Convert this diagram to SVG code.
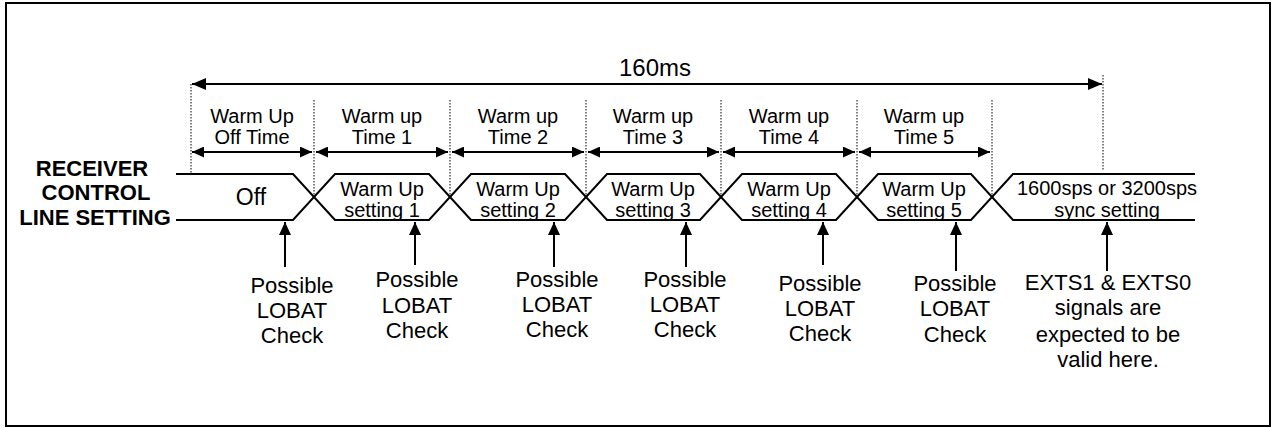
<svg xmlns="http://www.w3.org/2000/svg" width="1273" height="428" viewBox="0 0 1273 428">
<defs>
<marker id="ah" viewBox="0 0 12 11" refX="12" refY="5.5" markerWidth="12" markerHeight="11" markerUnits="userSpaceOnUse" orient="auto-start-reverse"><path d="M0,0 L12,5.5 L0,11 Z" fill="#000"/></marker>
<marker id="ahb" viewBox="0 0 14 12" refX="14" refY="6" markerWidth="14" markerHeight="12" markerUnits="userSpaceOnUse" orient="auto-start-reverse"><path d="M0,0 L14,6 L0,12 Z" fill="#000"/></marker>
<marker id="ahu" viewBox="0 0 13 12" refX="13" refY="6" markerWidth="13" markerHeight="12" markerUnits="userSpaceOnUse" orient="auto"><path d="M0,0 L13,6 L0,12 Z" fill="#000"/></marker>
</defs>
<style>
text{font-family:"Liberation Sans",Arial,sans-serif;fill:#000;text-anchor:middle}
.t20{font-size:20px}
.t22{font-size:22px}
.b{font-weight:bold;font-size:22px}
.dot{stroke:#000;stroke-width:1;stroke-dasharray:1.5,1.5;fill:none}
.ln{stroke:#000;stroke-width:2;fill:none}
.ar{stroke:#000;stroke-width:2;fill:none}
</style>
<rect x="6" y="3" width="1264" height="423" fill="#fff" stroke="#000" stroke-width="2"/>

<g id="timing-lines">
<line class="dot" x1="191" y1="84" x2="191" y2="174"/>
<line class="dot" x1="314" y1="100" x2="314" y2="197"/>
<line class="dot" x1="450" y1="100" x2="450" y2="197"/>
<line class="dot" x1="586" y1="100" x2="586" y2="197"/>
<line class="dot" x1="721" y1="100" x2="721" y2="197"/>
<line class="dot" x1="857" y1="100" x2="857" y2="197"/>
<line class="dot" x1="992" y1="100" x2="992" y2="197"/>
<line class="dot" x1="1103" y1="75" x2="1103" y2="171"/>
</g>

<g id="total-span">
<line class="ar" x1="192" y1="84" x2="1102" y2="84" marker-start="url(#ahb)" marker-end="url(#ahb)"/>
<text class="t22" x="655" y="76" style="font-size:24px">160ms</text>
</g>

<g id="signal-label">
<text class="b" x="92" y="176">RECEIVER</text>
<text class="b" x="96" y="200">CONTROL</text>
<text class="b" x="95" y="225">LINE SETTING</text>
</g>

<g id="signal">
<path class="ln" d="M176,174 H293 L335,220 H429 L471,174 H565 L607,220 H700 L742,174 H836 L878,220 H971 L1013,174 H1195"/>
<path class="ln" d="M176,220 H293 L335,174 H429 L471,220 H565 L607,174 H700 L742,220 H836 L878,174 H971 L1013,220 H1195"/>
</g>

<g id="seg-off">
<line class="ar" x1="192" y1="152" x2="312" y2="152" marker-start="url(#ah)" marker-end="url(#ah)"/>
<text class="t20" x="252" y="123">Warm Up</text>
<text class="t20" x="252" y="144">Off Time</text>
<text class="t22" x="251" y="205" style="font-size:23px">Off</text>
</g>
<g id="seg-1">
<line class="ar" x1="316" y1="152" x2="448" y2="152" marker-start="url(#ah)" marker-end="url(#ah)"/>
<text class="t20" x="382" y="123">Warm up</text>
<text class="t20" x="382" y="144">Time 1</text>
<text class="t20" x="382" y="196">Warm Up</text>
<text class="t20" x="382" y="217">setting 1</text>
</g>
<g id="seg-2">
<line class="ar" x1="452" y1="152" x2="584" y2="152" marker-start="url(#ah)" marker-end="url(#ah)"/>
<text class="t20" x="518" y="123">Warm up</text>
<text class="t20" x="518" y="144">Time 2</text>
<text class="t20" x="518" y="196">Warm Up</text>
<text class="t20" x="518" y="217">setting 2</text>
</g>
<g id="seg-3">
<line class="ar" x1="588" y1="152" x2="719" y2="152" marker-start="url(#ah)" marker-end="url(#ah)"/>
<text class="t20" x="653" y="123">Warm up</text>
<text class="t20" x="653" y="144">Time 3</text>
<text class="t20" x="653" y="196">Warm Up</text>
<text class="t20" x="653" y="217">setting 3</text>
</g>
<g id="seg-4">
<line class="ar" x1="723" y1="152" x2="855" y2="152" marker-start="url(#ah)" marker-end="url(#ah)"/>
<text class="t20" x="789" y="123">Warm up</text>
<text class="t20" x="789" y="144">Time 4</text>
<text class="t20" x="789" y="196">Warm Up</text>
<text class="t20" x="789" y="217">setting 4</text>
</g>
<g id="seg-5">
<line class="ar" x1="859" y1="152" x2="990" y2="152" marker-start="url(#ah)" marker-end="url(#ah)"/>
<text class="t20" x="924" y="123">Warm up</text>
<text class="t20" x="924" y="144">Time 5</text>
<text class="t20" x="924" y="196">Warm Up</text>
<text class="t20" x="924" y="217">setting 5</text>
</g>
<g id="seg-sync">
<text class="t20" x="1107" y="195">1600sps or 3200sps</text>
<text class="t20" x="1107" y="217">sync setting</text>
</g>

<g id="connectors">
<line class="ar" x1="285" y1="267" x2="285" y2="222" marker-end="url(#ahu)"/>
<line class="ar" x1="415" y1="265" x2="415" y2="222" marker-end="url(#ahu)"/>
<line class="ar" x1="554" y1="267" x2="554" y2="222" marker-end="url(#ahu)"/>
<line class="ar" x1="686" y1="267" x2="686" y2="222" marker-end="url(#ahu)"/>
<line class="ar" x1="823" y1="265" x2="823" y2="222" marker-end="url(#ahu)"/>
<line class="ar" x1="956" y1="271" x2="956" y2="222" marker-end="url(#ahu)"/>
<line class="ar" x1="1107" y1="271" x2="1107" y2="222" marker-end="url(#ahu)"/>
</g>

<g id="note-1">
<text class="t22" x="292" y="293">Possible</text>
<text class="t22" x="292" y="318">LOBAT</text>
<text class="t22" x="292" y="343">Check</text>
</g>
<g id="note-2">
<text class="t22" x="417" y="287">Possible</text>
<text class="t22" x="417" y="313">LOBAT</text>
<text class="t22" x="417" y="338">Check</text>
</g>
<g id="note-3">
<text class="t22" x="557" y="287">Possible</text>
<text class="t22" x="557" y="312">LOBAT</text>
<text class="t22" x="557" y="337">Check</text>
</g>
<g id="note-4">
<text class="t22" x="685" y="287">Possible</text>
<text class="t22" x="685" y="312">LOBAT</text>
<text class="t22" x="685" y="337">Check</text>
</g>
<g id="note-5">
<text class="t22" x="820" y="291">Possible</text>
<text class="t22" x="820" y="316">LOBAT</text>
<text class="t22" x="820" y="341">Check</text>
</g>
<g id="note-6">
<text class="t22" x="955" y="291">Possible</text>
<text class="t22" x="955" y="316">LOBAT</text>
<text class="t22" x="955" y="342">Check</text>
</g>
<g id="note-7">
<text class="t22" x="1108" y="290">EXTS1 &amp; EXTS0</text>
<text class="t22" x="1108" y="315">signals are</text>
<text class="t22" x="1108" y="342">expected to be</text>
<text class="t22" x="1108" y="367">valid here.</text>
</g>
</svg>
